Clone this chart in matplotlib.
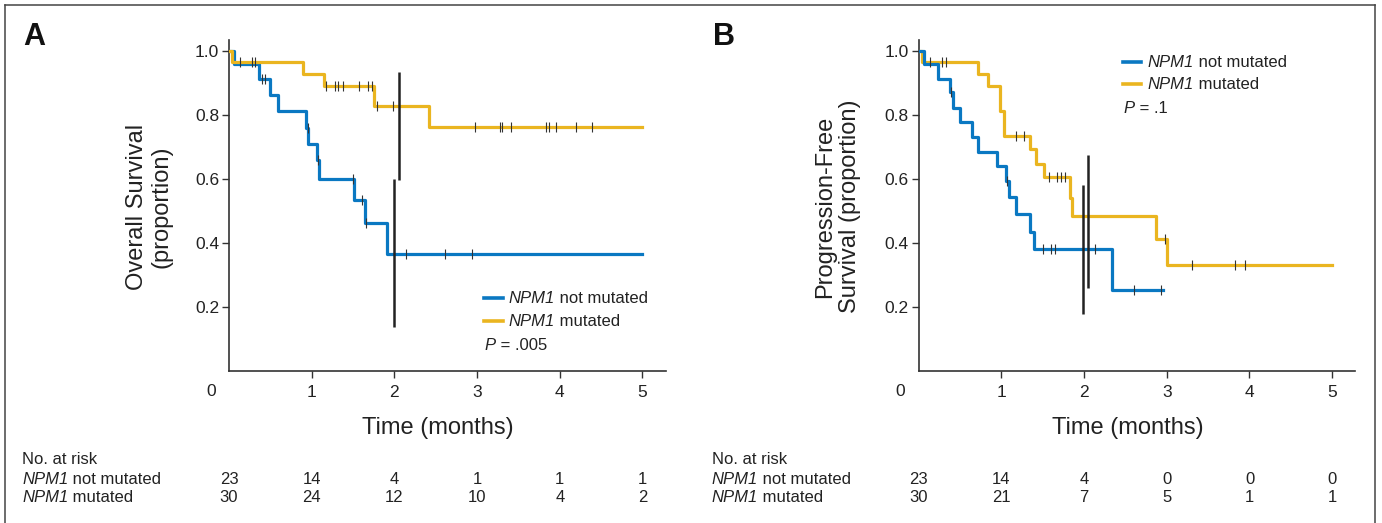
import numpy as np
import matplotlib
matplotlib.use("Agg")
import matplotlib.pyplot as plt
from matplotlib.lines import Line2D
from matplotlib.text import Annotation

plt.rcParams['font.family'] = ['Liberation Sans', 'DejaVu Sans']

# --- data ---
months = [0, 1, 2, 3, 4, 5]

# A: overall survival
os_not_t = [0, 0.064, 0.367, 0.496, 0.588, 0.931, 0.959, 1.06, 1.088, 1.511, 1.64, 1.907]
os_not_s = [1.0, 0.958, 0.912, 0.863, 0.814, 0.758, 0.709, 0.659, 0.60, 0.534, 0.462, 0.366]
os_not_end = 5.0
os_not_cens = [0.396, 0.435, 0.951, 1.08, 1.504, 1.605, 1.653, 2.136, 2.612, 2.934]

os_mut_t = [0, 0.04, 0.899, 1.149, 1.753, 2.414]
os_mut_s = [1.0, 0.967, 0.929, 0.891, 0.829, 0.761]
os_mut_end = 5.0
os_mut_cens = [0.133, 0.274, 0.314, 1.173, 1.282, 1.322, 1.375, 1.572, 1.677, 1.725,
               1.786, 1.987, 2.975, 3.277, 3.305, 3.41, 3.833, 3.869, 3.954, 4.192, 4.385]

os_ci_x = [2.0, 2.052]
os_ci_lo = [0.139, 0.597]
os_ci_hi = [0.60, 0.933]

os_risk_not = [23, 14, 4, 1, 1, 1]
os_risk_mut = [30, 24, 12, 10, 4, 2]

# B: progression-free survival
pfs_not_t = [0, 0.068, 0.229, 0.378, 0.41, 0.499, 0.64, 0.72, 0.942, 1.062, 1.091, 1.171,
             1.344, 1.397, 2.339]
pfs_not_s = [1.0, 0.958, 0.912, 0.873, 0.821, 0.777, 0.732, 0.685, 0.641, 0.595, 0.545,
             0.491, 0.435, 0.38, 0.253]
pfs_not_end = 2.955
pfs_not_cens = [0.39, 1.07, 1.505, 1.598, 1.646, 2.129, 2.604, 2.935]

pfs_mut_t = [0, 0.036, 0.72, 0.841, 0.982, 1.034, 1.344, 1.413, 1.517, 1.827, 1.855, 2.866, 3.007]
pfs_mut_s = [1.0, 0.967, 0.929, 0.891, 0.814, 0.734, 0.693, 0.647, 0.605, 0.54, 0.484, 0.4125, 0.331]
pfs_mut_end = 5.0
pfs_mut_cens = [0.135, 0.277, 0.33, 1.171, 1.276, 1.574, 1.667, 1.719, 1.775, 2.975,
                3.305, 3.828, 3.949]

pfs_ci_x = [1.992, 2.049]
pfs_ci_lo = [0.177, 0.26]
pfs_ci_hi = [0.58, 0.675]

pfs_risk_not = [23, 14, 4, 0, 0, 0]
pfs_risk_mut = [30, 21, 7, 5, 1, 1]

BLUE = "#0A78C2"
YELLOW = "#EAB520"
DARK = "#222222"

W, H = 1382, 523
fig = plt.figure(figsize=(W / 100, H / 100), dpi=100)


def fx(px):
    return px / W


def fy(py):
    return 1 - py / H


def mixed_text(x, y, parts, size=12, va="center"):
    # parts: list of (string, style) placed one after another
    first, style = parts[0]
    t = fig.text(fx(x), fy(y), first, fontsize=size, style=style, ha="left", va=va, color=DARK)
    prev = t
    for s, style in parts[1:]:
        a = Annotation(s, xy=(1, 0), xycoords=prev, ha="left", va="bottom",
                       fontsize=size, style=style, color=DARK)
        fig.add_artist(a)
        prev = a
    return t


def km(ax, t, s, end, cens, color):
    tt = list(t) + [end]
    ss = list(s) + [s[-1]]
    ax.step(tt, ss, where="post", color=color, lw=2.3, zorder=3)
    idx = np.searchsorted(t, cens, side="right") - 1
    ax.plot(cens, np.array(s)[idx], ls="none", marker="|", ms=7, mew=0.8,
            color="#333333", zorder=4)


def panel(left_px, letter, ylabel, ylab_x, curves, ci, risk, legend_pos, pval):
    ax = fig.add_axes([fx(left_px), fy(371), fx(436.5), (371 - 39.8) / H])
    for (t, s, end, cens, color) in curves:
        km(ax, t, s, end, cens, color)
    cx, lo, hi = ci
    ax.vlines(cx, lo, hi, color=DARK, lw=1.8, zorder=5)

    ax.set_xlim(0, 5.28)
    ax.set_ylim(0, 1.035)
    for side in ["top", "right"]:
        ax.spines[side].set_visible(False)
    for side in ["left", "bottom"]:
        ax.spines[side].set_color("#333333")
        ax.spines[side].set_linewidth(1.2)
    ax.set_xticks(months[1:])
    ax.set_yticks([0.2, 0.4, 0.6, 0.8, 1.0])
    ax.set_yticklabels(["0.2", "0.4", "0.6", "0.8", "1.0"])
    ax.tick_params(axis="y", length=5, width=1.0, color="#333333", pad=2,
                   labelsize=12.5, labelcolor=DARK)
    ax.tick_params(axis="x", length=5, width=1.0, color="#333333", pad=5,
                   labelsize=12.5, labelcolor=DARK)
    ax.patch.set_alpha(0)

    # "0" at the corner
    fig.text(fx(left_px - 18.3), fy(391), "0", fontsize=12.5, ha="center", va="center", color=DARK)

    fig.text(fx(left_px - 206), fy(45), letter, fontsize=22, fontweight="bold",
             ha="left", va="baseline", color="#111111")
    fig.text(fx(ylab_x), fy(206.5), ylabel, rotation=90, fontsize=17, ha="center",
             va="center", multialignment="center", linespacing=1.15, color=DARK)
    fig.text(fx(left_px + 209), fy(428), "Time (months)", fontsize=17, ha="center",
             va="center", color=DARK)

    # legend
    lx, ly = legend_pos
    for k, (lab, color) in enumerate([("not mutated", BLUE), ("mutated", YELLOW)]):
        yy = ly + 22.4 * k
        fig.add_artist(Line2D([fx(lx), fx(lx + 18.4)], [fy(yy), fy(yy)], color=color, lw=2.6))
        mixed_text(lx + 24.5, yy + 8, [("NPM1", "italic"), (" " + lab, "normal")], va="bottom")
    mixed_text(lx + 0.5, ly + 24.7 * 2 - 3 + 8, [("P", "italic"), (" = " + pval, "normal")], va="bottom")

    # number at risk table
    tx = left_px - 207
    fig.text(fx(tx), fy(459), "No. at risk", fontsize=12, ha="left", va="center", color=DARK)
    mixed_text(tx, 479 + 8, [("NPM1", "italic"), (" not mutated", "normal")], va="bottom")
    mixed_text(tx, 497 + 8, [("NPM1", "italic"), (" mutated", "normal")], va="bottom")
    rn, rm = risk
    for m, a, b in zip(months, rn, rm):
        xp = left_px + m * 82.7
        fig.text(fx(xp), fy(479), str(a), fontsize=12, ha="center", va="center", color=DARK)
        fig.text(fx(xp), fy(497), str(b), fontsize=12, ha="center", va="center", color=DARK)
    return ax


panel(229, "A", "Overall Survival\n(proportion)", 149,
      [(os_not_t, os_not_s, os_not_end, os_not_cens, BLUE),
       (os_mut_t, os_mut_s, os_mut_end, os_mut_cens, YELLOW)],
      (os_ci_x, os_ci_lo, os_ci_hi), (os_risk_not, os_risk_mut),
      (484.3, 298.3), ".005")

panel(918.7, "B", "Progression-Free\nSurvival (proportion)", 837.5,
      [(pfs_mut_t, pfs_mut_s, pfs_mut_end, pfs_mut_cens, YELLOW),
       (pfs_not_t, pfs_not_s, pfs_not_end, pfs_not_cens, BLUE)],
      (pfs_ci_x, pfs_ci_lo, pfs_ci_hi), (pfs_risk_not, pfs_risk_mut),
      (1123, 62), ".1")

# outer frame (open at the bottom)
frame_kw = dict(color="#444444", lw=1.1)
fig.add_artist(Line2D([fx(5.5), fx(5.5)], [fy(5), 0], **frame_kw))
fig.add_artist(Line2D([fx(5.5), fx(1375)], [fy(5), fy(5)], **frame_kw))
fig.add_artist(Line2D([fx(1375), fx(1375)], [fy(5), 0], **frame_kw))

fig.savefig("out.png", dpi=100)
